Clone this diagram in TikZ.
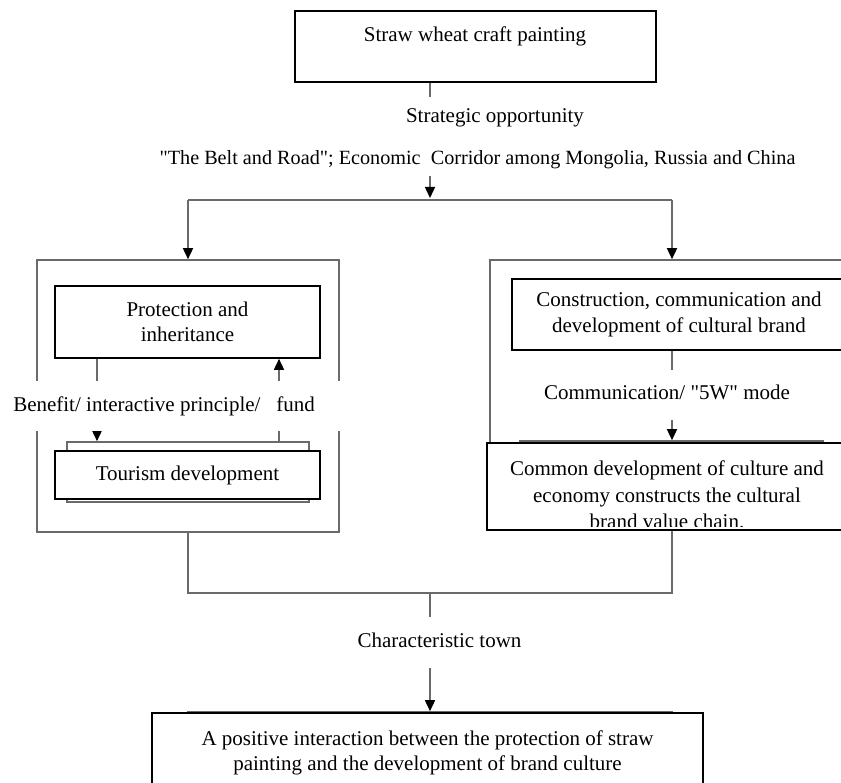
\documentclass[tikz,border=0pt]{standalone}
\usepackage{fontspec}
\setmainfont{Liberation Serif}
\usetikzlibrary{arrows.meta}
\definecolor{lgray}{HTML}{6A6A6A}
\newcommand{\dq}{\textquotedbl}
\begin{document}
\begin{tikzpicture}[x=1pt,y=-1pt,
  box/.style={draw=black,line width=1.6pt,fill=white,inner sep=0pt},
  panel/.style={draw=lgray,line width=1.6pt,inner sep=0pt},
  backbox/.style={draw=lgray,line width=1.6pt,inner sep=0pt},
  conn/.style={draw=lgray,line width=1.5pt},
  arr/.style={conn,-{Triangle[length=11pt,width=10pt,black]}},
  txt/.style={font=\fontsize{21pt}{25.5pt}\selectfont,align=center,inner sep=0pt}]
\clip (0,0) rectangle (841,783);
\fill[white] (0,0) rectangle (841,783);

% panels
\node[panel,minimum width=302pt,minimum height=272pt] (lp) at (188,396) {};
\node[panel,minimum width=380pt,minimum height=270pt] (rp) at (680,395) {};

% top
\node[box,minimum width=361pt,minimum height=71pt] (top) at (475.5,46.5) {};
\node[txt,anchor=base] (toptxt) at (475,42) {Straw wheat craft painting};
\node[txt,anchor=base] (strat) at (495,123) {Strategic opportunity};
\node[txt,anchor=base,font=\fontsize{20.2pt}{25pt}\selectfont] (belt) at (477.5,165) {\dq The Belt and Road\dq; Economic\ \ Corridor among Mongolia, Russia and China};

\coordinate (xc) at (430,0);
\coordinate (s1) at (430,97);
\coordinate (s2) at (430,176);
\coordinate (j0) at (430,198);
\coordinate (jl) at (188,200);
\coordinate (jr) at (672,200);
\draw[conn] (top.south -| xc) -- (s1);
\draw[arr] (s2) -- (j0);
\draw[conn] (jl) -- (jr);
\draw[arr] (jl) -- (lp.north -| jl);
\draw[arr] (jr) -- (rp.north -| jr);

% left panel
\node[box,txt,minimum width=265pt,minimum height=72pt] (prot) at (187.5,322) {Protection and\\inheritance};
\node[backbox,minimum width=242pt,minimum height=60pt] (tback) at (188,472) {};
\node[box,txt,minimum width=265pt,minimum height=48pt] (tour) at (187.5,475) {Tourism development};
\coordinate (xl) at (97,0);
\coordinate (xr) at (279,0);
\draw[arr] (prot.south -| xl) -- (tback.north -| xl);
\draw[arr] (tback.north -| xr) -- (prot.south -| xr);
\fill[white] (8,381) rectangle (346,431);
\node[txt,anchor=base] (benefit) at (164,412) {Benefit/ interactive principle/\ \ \ fund};

% right panel
\node[box,txt,minimum width=334pt,minimum height=71pt] (cons) at (679,314.5) {Construction, communication and\\development of cultural brand};
\coordinate (xm) at (672,0);
\coordinate (m1) at (672,370);
\coordinate (m2) at (672,420);
\node[txt,anchor=base] (comm) at (667,400) {Communication/ \dq 5W\dq{} mode};
\node[backbox,minimum width=303pt,minimum height=70pt] (cback) at (671.5,476) {};
\draw[conn] (cons.south -| xm) -- (m1);
\draw[arr] (m2) -- (cback.north -| xm);
\node[box,minimum width=360pt,minimum height=87pt] (common) at (667,486.5) {};
\begin{scope}
\clip (488.5,444.5) rectangle (846,526.5);
\node[txt,anchor=north,font=\fontsize{21pt}{26.5pt}\selectfont] (commontxt) at (667,461) {Common development of culture and\\economy constructs the cultural\\brand value chain.};
\end{scope}

% bottom
\coordinate (bl) at (188,593);
\coordinate (br) at (672,593);
\coordinate (bc) at (430,593);
\coordinate (b1) at (430,617);
\coordinate (b2) at (430,668);
\draw[conn] (lp.south) -- (bl) -- (br) -- (common.south -| br);
\draw[conn] (bc) -- (b1);
\node[txt,anchor=base] (town) at (439.5,647) {Characteristic town};
\node[backbox,minimum width=484pt,minimum height=60pt] (bback) at (430,742) {};
\draw[arr] (b2) -- (bback.north);
\node[box,txt,minimum width=551pt,minimum height=80pt] (final) at (427.5,753) {A positive interaction between the protection of straw\\painting and the development of brand culture};
\end{tikzpicture}
\end{document}
